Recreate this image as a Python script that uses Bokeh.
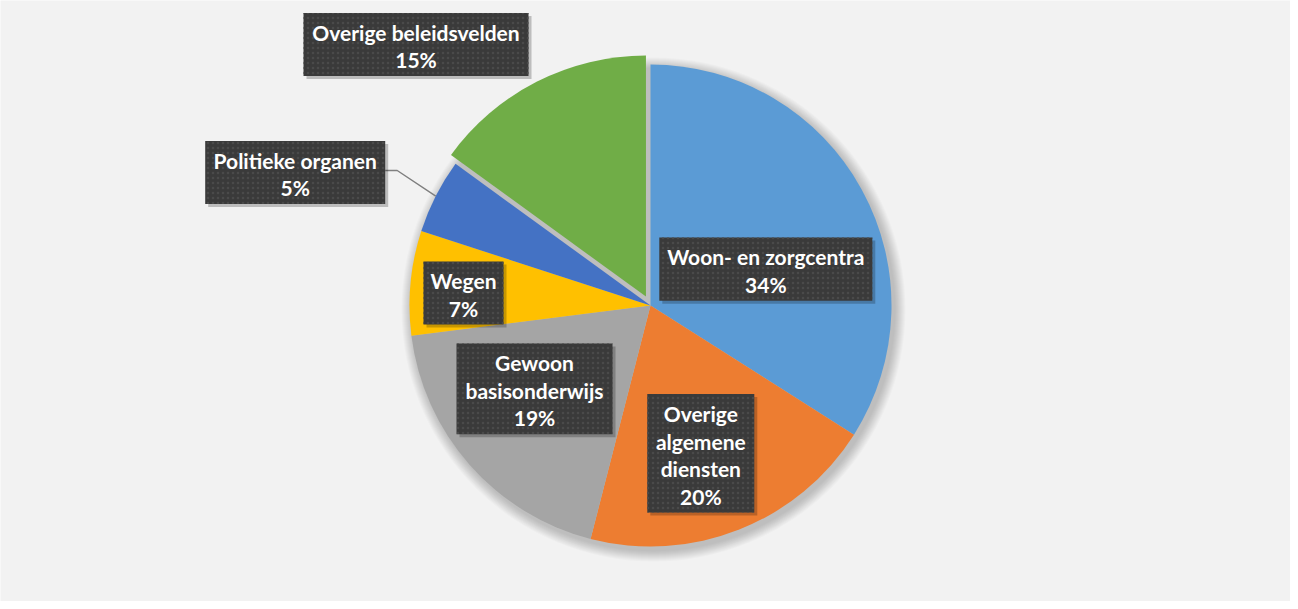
import numpy as np
from bokeh.plotting import figure
from bokeh.models import Range1d
from bokeh.core.properties import value
from bokeh.embed import file_html
from bokeh.resources import INLINE

# ---- data ----
categories = ["Woon- en zorgcentra", "Overige\nalgemene\ndiensten", "Gewoon\nbasisonderwijs",
              "Wegen", "Politieke organen", "Overige beleidsvelden"]
shares = [34, 20, 19, 7, 5, 15]
colors = ["#5B9BD5", "#ED7D31", "#A5A5A5", "#FFC000", "#4472C4", "#70AD47"]
explode = [0, 0, 0, 0, 0, 10]

# ---- layout (screen px within figure frame) ----
W, H = 1290, 601
CX, CY, R = 650, 296, 241          # pie centre (data coords: x right, y up)
# label box centres in page pixels (x, y from top) and widths
label_cx = [773.3, 708.3, 542.0, 471.0, 302.7, 423.5]
label_cy = [276.7, 460.8, 396.3, 300.5, 180.0, 52.0]
label_w = [213, 107, 156, 80, 180, 225]
LINE_H = 27.6
FONT = "Lato"

p = figure(width=W, height=H, output_backend="svg", toolbar_location=None,
           x_range=Range1d(0, W), y_range=Range1d(0, H),
           x_axis_type=None, y_axis_type=None,
           min_border=0, min_border_left=0, min_border_right=0,
           min_border_top=0, min_border_bottom=0)
p.grid.visible = False
p.outline_line_color = None
p.background_fill_color = "#F2F2F2"
p.border_fill_color = "#F2F2F2"

def px(x):  # page x -> data x
    return x - 8
def py(y):  # page y -> data y
    return 609 - y

vals = np.array(shares, dtype=float)
frac = vals / vals.sum()
cum = np.concatenate([[0], np.cumsum(frac)])
starts = np.pi / 2 - 2 * np.pi * cum[:-1]
ends = np.pi / 2 - 2 * np.pi * cum[1:]
mids = (starts + ends) / 2
ox = np.array(explode) * np.cos(mids)
oy = np.array(explode) * np.sin(mids)

# soft shadow
for k in range(1, 12):
    p.circle(x=CX + 3, y=CY - 4, radius=R + k, fill_color="black", fill_alpha=0.018,
             line_color=None)

p.wedge(x=list(CX + ox), y=list(CY + oy), radius=R,
        start_angle=list(starts), end_angle=list(ends), direction="clock",
        fill_color=colors, line_color=None)

# leader line for small slice (Politieke organen)
i = 4
ex = CX + R * np.cos(mids[i])
ey = CY + R * np.sin(mids[i])
bx_right = px(label_cx[i] + label_w[i] / 2)
by = py(label_cy[i] - 2)
p.line(x=[bx_right, bx_right + 12, ex], y=[by, by, ey], line_color="#808080", line_width=1.5)

# label boxes
lefts, rights, tops, bottoms = [], [], [], []
tx, ty, tt = [], [], []
for j, name in enumerate(categories):
    lines = name.split("\n") + [f"{shares[j]}%"]
    n = len(lines)
    h = LINE_H * n + 8
    cx, cy = label_cx[j], label_cy[j]
    lefts.append(px(cx - label_w[j] / 2)); rights.append(px(cx + label_w[j] / 2))
    tops.append(py(cy - h / 2)); bottoms.append(py(cy + h / 2))
    for k, ln in enumerate(lines):
        tx.append(px(cx))
        ty.append(py(cy + (k - (n - 1) / 2) * LINE_H + 1.5))
        tt.append(ln)

# box shadow
p.quad(left=[l + 3 for l in lefts], right=[r + 3 for r in rights],
       top=[t - 3 for t in tops], bottom=[b - 3 for b in bottoms],
       fill_color="black", fill_alpha=0.22, line_color=None)
p.quad(left=lefts, right=rights, top=tops, bottom=bottoms,
       fill_color="#3A3A3A", line_color=None,
       hatch_pattern="dot", hatch_color="#4A4A4A", hatch_scale=5, hatch_weight=1)

p.text(x=tx, y=ty, text=tt, text_color="white", text_font=value(FONT),
       text_font_style="bold", text_font_size="21px",
       text_align="center", text_baseline="middle")

open("out.html", "w").write(file_html(p, INLINE))
